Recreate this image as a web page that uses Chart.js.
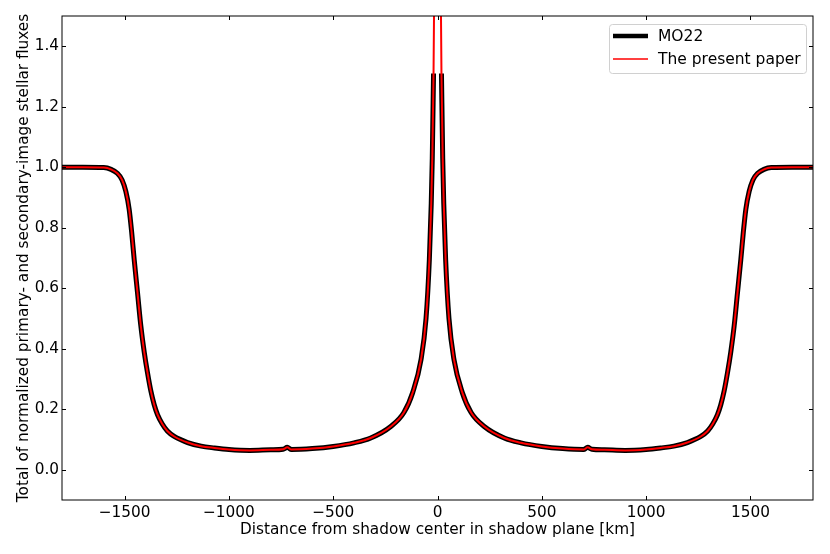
<!DOCTYPE html>
<html>
<head>
<meta charset="utf-8">
<script src="https://cdn.jsdelivr.net/npm/chart.js@4.4.1/dist/chart.umd.min.js"></script>
<style>
  html, body { margin: 0; padding: 0; background: #fff; }
  #wrap { width: 830px; height: 554px; }
</style>
</head>
<body>
<div id="wrap"><canvas id="Chart" width="830" height="554"></canvas></div>
<script>
// distance from shadow centre [km] and normalized total flux
const xLeft = [-1800, -1700, -1600, -1565, -1535, -1512, -1494, -1478, -1466, -1454, -1438, -1422, -1406, -1390, -1374, -1358, -1342, -1320, -1295, -1262, -1198, -1133, -1069, -1000, -900, -800, -740, -720, -700, -600, -500, -400, -320, -224, -161, -119, -79, -55, -39, -30, -25, -19];
const fluxLeft = [1.000, 1.000, 0.999, 0.993, 0.980, 0.958, 0.920, 0.861, 0.785, 0.695, 0.585, 0.475, 0.390, 0.320, 0.260, 0.215, 0.182, 0.152, 0.128, 0.110, 0.090, 0.078, 0.072, 0.067, 0.064, 0.066, 0.068, 0.074, 0.067, 0.070, 0.077, 0.089, 0.105, 0.143, 0.189, 0.255, 0.364, 0.500, 0.695, 0.880, 1.030, 1.310];
const xRight = [19, 25, 30, 39, 55, 79, 119, 161, 224, 320, 400, 500, 600, 700, 720, 740, 800, 900, 1000, 1069, 1133, 1198, 1262, 1295, 1320, 1342, 1358, 1374, 1390, 1406, 1422, 1438, 1454, 1466, 1478, 1494, 1512, 1535, 1565, 1600, 1700, 1800];
const fluxRight = [1.310, 1.030, 0.880, 0.695, 0.500, 0.364, 0.255, 0.189, 0.143, 0.105, 0.089, 0.077, 0.070, 0.067, 0.074, 0.068, 0.066, 0.064, 0.067, 0.072, 0.078, 0.090, 0.110, 0.128, 0.152, 0.182, 0.215, 0.260, 0.320, 0.390, 0.475, 0.585, 0.695, 0.785, 0.861, 0.920, 0.958, 0.980, 0.993, 0.999, 1.000, 1.000];
// the present paper's curve keeps rising past the top of the frame near the centre
const centreX = [-15, 15];
const centreFlux = [1.65, 1.65];

const xTicks = [-1500, -1000, -500, 0, 500, 1000, 1500];
const yTicks = [0.0, 0.2, 0.4, 0.6, 0.8, 1.0, 1.2, 1.4];

const seriesLabels = ["MO22", "The present paper"];
const seriesColors = ["#000000", "#ff0000"];

const toPoints = (xs, ys) => xs.map((x, i) => ({ x: x, y: ys[i] }));
const gap = { x: 0, y: null };

const mo22 = [...toPoints(xLeft, fluxLeft), gap, ...toPoints(xRight, fluxRight)];
const present = [
    ...toPoints(xLeft, fluxLeft), { x: centreX[0], y: centreFlux[0] },
    gap,
    { x: centreX[1], y: centreFlux[1] }, ...toPoints(xRight, fluxRight)
];

const FONT = "'DejaVu Sans', sans-serif";
Chart.defaults.font.family = FONT;
Chart.defaults.font.size = 15.3;
Chart.defaults.color = "#000";

const minus = v => String(v).replace("-", "\u2212");

// matplotlib-like frame, inward ticks on all four sides and legend inside the axes
const framePlugin = {
    id: "frame",
    afterDraw(chart) {
        const { ctx, chartArea: a, scales } = chart;
        ctx.save();
        ctx.strokeStyle = "#000";
        ctx.lineWidth = 1;
        ctx.strokeRect(a.left, a.top, a.right - a.left, a.bottom - a.top);
        const len = 4;
        ctx.beginPath();
        scales.x.ticks.forEach(t => {
            const px = Math.round(scales.x.getPixelForValue(t.value)) + 0.5;
            ctx.moveTo(px, a.bottom); ctx.lineTo(px, a.bottom - len);
            ctx.moveTo(px, a.top); ctx.lineTo(px, a.top + len);
        });
        scales.y.ticks.forEach(t => {
            const py = Math.round(scales.y.getPixelForValue(t.value)) + 0.5;
            ctx.moveTo(a.left, py); ctx.lineTo(a.left + len, py);
            ctx.moveTo(a.right, py); ctx.lineTo(a.right - len, py);
        });
        ctx.stroke();

        // legend
        const bw = 197, bh = 49;
        const bx = a.right - 7 - bw, by = a.top + 8;
        ctx.fillStyle = "rgba(255,255,255,0.8)";
        ctx.strokeStyle = "#d0d0d0";
        ctx.lineWidth = 1;
        ctx.beginPath();
        ctx.roundRect(bx + 0.5, by + 0.5, bw, bh, 3);
        ctx.fill();
        ctx.stroke();
        const widths = [4.5, 1.6];
        ctx.font = "15.5px " + FONT;
        ctx.textBaseline = "middle";
        seriesLabels.forEach((label, i) => {
            const y = by + 12 + i * 23;
            ctx.strokeStyle = seriesColors[i];
            ctx.lineWidth = widths[i];
            ctx.beginPath();
            ctx.moveTo(bx + 4, y);
            ctx.lineTo(bx + 39, y);
            ctx.stroke();
            ctx.fillStyle = "#000";
            ctx.fillText(label, bx + 49, y + 1);
        });
        ctx.restore();
    }
};

const ctx = document.getElementById("Chart");
new Chart(ctx, {
    type: "line",
    data: {
        datasets: [
            {
                label: seriesLabels[1],
                data: present,
                borderColor: seriesColors[1],
                borderWidth: 2,
                pointRadius: 0,
                cubicInterpolationMode: "monotone",
                spanGaps: false,
                order: 0,
            },
            {
                label: seriesLabels[0],
                data: mo22,
                borderColor: seriesColors[0],
                borderWidth: 5,
                pointRadius: 0,
                cubicInterpolationMode: "monotone",
                spanGaps: false,
                order: 1,
            },
        ]
    },
    options: {
        responsive: false,
        animation: false,
        events: [],
        layout: { padding: { top: 16, right: 17, left: 15, bottom: 15 } },
        plugins: {
            legend: { display: false },
            tooltip: { enabled: false },
        },
        scales: {
            x: {
                type: "linear",
                min: -1800,
                max: 1800,
                afterBuildTicks: s => { s.ticks = xTicks.map(v => ({ value: v })); },
                afterFit: s => { s.height = 39; },
                grid: { display: false, drawTicks: false },
                border: { display: false },
                ticks: { padding: 4, callback: v => minus(v) },
                title: {
                    display: true,
                    text: "Distance from shadow center in shadow plane [km]",
                    padding: { top: 0, bottom: 0 },
                },
            },
            y: {
                type: "linear",
                min: -0.1,
                max: 1.5,
                afterBuildTicks: s => { s.ticks = yTicks.map(v => ({ value: v })); },
                afterFit: s => { s.width = 47; },
                grid: { display: false, drawTicks: false },
                border: { display: false },
                ticks: { padding: 3, callback: v => minus(v.toFixed(1)) },
                title: {
                    display: true,
                    text: "Total of normalized primary- and secondary-image stellar fluxes",
                    padding: { top: 0, bottom: 0 },
                },
            },
        },
    },
    plugins: [framePlugin],
});
</script>
</body>
</html>
